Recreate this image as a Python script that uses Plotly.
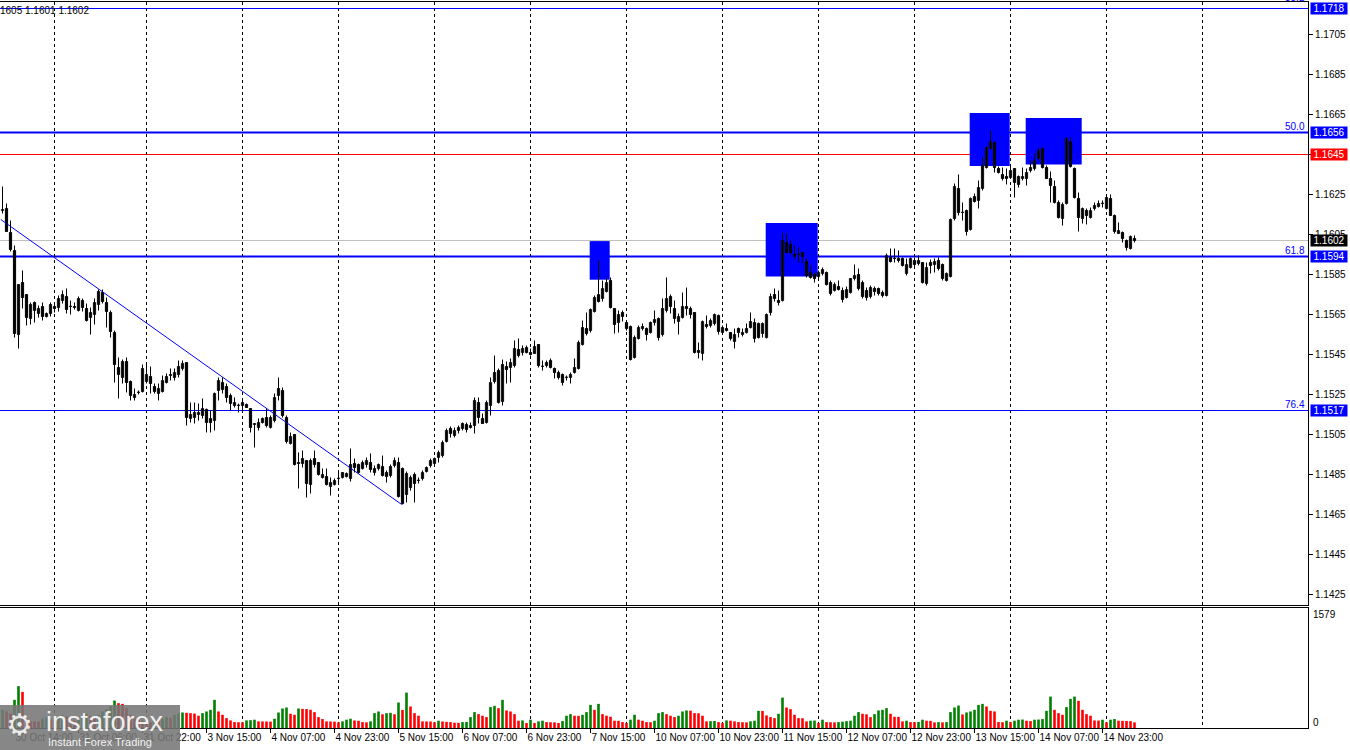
import plotly.graph_objects as go

# ---------------- data (EURUSD H1) ----------------
opens = [
    1.16170,1.16180,1.16060,1.15970,1.15550,1.15810,1.15750,1.15630,1.15710,1.15655,
    1.15690,1.15640,1.15655,1.15690,1.15685,1.15720,1.15740,1.15690,1.15690,1.15670,
    1.15720,1.15680,1.15635,1.15650,1.15700,1.15760,1.15710,1.15660,1.15560,1.15385,
    1.15335,1.15415,1.15315,1.15235,1.15260,1.15265,1.15315,1.15340,1.15290,1.15255,
    1.15265,1.15310,1.15345,1.15335,1.15350,1.15380,1.15410,1.15130,1.15135,1.15150,
    1.15145,1.15175,1.15130,1.15120,1.15270,1.15310,1.15290,1.15245,1.15195,1.15195,
    1.15195,1.15200,1.15180,1.15100,1.15085,1.15110,1.15135,1.15085,1.15120,1.15245,
    1.15270,1.15135,1.15005,1.15050,1.14910,1.14905,1.14920,1.14800,1.14930,1.14910,
    1.14835,1.14840,1.14790,1.14800,1.14830,1.14835,1.14840,1.14830,1.14905,1.14900,
    1.14880,1.14900,1.14910,1.14860,1.14880,1.14890,1.14860,1.14845,1.14895,1.14910,
    1.14880,1.14750,1.14785,1.14850,1.14820,1.14830,1.14865,1.14895,1.14905,1.14935,
    1.14945,1.15015,1.15080,1.15045,1.15070,1.15080,1.15100,1.15085,1.15095,1.15210,
    1.15130,1.15110,1.15195,1.15315,1.15370,1.15215,1.15390,1.15385,1.15395,1.15475,
    1.15460,1.15485,1.15460,1.15455,1.15500,1.15390,1.15395,1.15420,1.15380,1.15360,
    1.15350,1.15335,1.15335,1.15360,1.15380,1.15500,1.15580,1.15570,1.15665,1.15750,
    1.15730,1.15765,1.15820,1.15680,1.15610,1.15660,1.15610,1.15590,1.15435,1.15530,
    1.15580,1.15580,1.15560,1.15610,1.15630,1.15550,1.15670,1.15740,1.15680,1.15615,
    1.15635,1.15690,1.15680,1.15660,1.15470,1.15455,1.15600,1.15595,1.15605,1.15645,
    1.15560,1.15580,1.15560,1.15515,1.15580,1.15550,1.15560,1.15585,1.15610,1.15605,
    1.15555,1.15535,1.15660,1.15750,1.15720,1.15720,1.16010,1.16000,1.15950,1.15950,
    1.15960,1.15915,1.15860,1.15850,1.15840,1.15855,1.15860,1.15810,1.15770,1.15790,
    1.15770,1.15735,1.15760,1.15830,1.15850,1.15810,1.15770,1.15740,1.15780,1.15780,
    1.15760,1.15745,1.15935,1.15930,1.15930,1.15930,1.15855,1.15885,1.15920,1.15905,
    1.15910,1.15805,1.15910,1.15900,1.15920,1.15900,1.15820,1.15840,1.16130,1.16280,
    1.16160,1.16170,1.16075,1.16240,1.16220,1.16280,1.16385,1.16480,1.16510,1.16380,
    1.16350,1.16340,1.16335,1.16380,1.16300,1.16330,1.16330,1.16370,1.16380,1.16430,
    1.16480,1.16385,1.16330,1.16290,1.16210,1.16130,1.16205,1.16515,1.16380,1.16230,
    1.16130,1.16170,1.16135,1.16180,1.16190,1.16205,1.16180,1.16230,1.16145,1.16055,
    1.16060,1.16020,1.15980,1.16030,
]
highs = [
    1.16290,1.16205,1.16120,1.15995,1.15800,1.15870,1.15750,1.15710,1.15715,1.15695,
    1.15710,1.15660,1.15710,1.15710,1.15745,1.15770,1.15780,1.15720,1.15710,1.15740,
    1.15730,1.15705,1.15685,1.15730,1.15775,1.15775,1.15735,1.15670,1.15570,1.15435,
    1.15425,1.15435,1.15320,1.15280,1.15270,1.15400,1.15400,1.15390,1.15305,1.15305,
    1.15345,1.15355,1.15380,1.15380,1.15420,1.15420,1.15410,1.15210,1.15210,1.15205,
    1.15230,1.15180,1.15170,1.15260,1.15335,1.15335,1.15305,1.15255,1.15235,1.15205,
    1.15220,1.15205,1.15180,1.15105,1.15130,1.15135,1.15180,1.15145,1.15255,1.15335,
    1.15285,1.15145,1.15060,1.15050,1.14960,1.14970,1.14920,1.14930,1.14970,1.14910,
    1.14880,1.14880,1.14835,1.14830,1.14870,1.14860,1.14860,1.14980,1.14930,1.14905,
    1.14920,1.14935,1.14955,1.14895,1.14905,1.14945,1.14870,1.14900,1.14935,1.14935,
    1.14885,1.14865,1.14845,1.14860,1.14835,1.14870,1.14890,1.14930,1.14935,1.14970,
    1.15020,1.15080,1.15090,1.15085,1.15095,1.15110,1.15110,1.15110,1.15235,1.15235,
    1.15155,1.15220,1.15335,1.15445,1.15380,1.15425,1.15415,1.15430,1.15520,1.15530,
    1.15495,1.15495,1.15480,1.15520,1.15500,1.15420,1.15420,1.15430,1.15385,1.15370,
    1.15355,1.15345,1.15360,1.15430,1.15520,1.15620,1.15660,1.15680,1.15745,1.15920,
    1.15820,1.15835,1.15835,1.15680,1.15670,1.15670,1.15615,1.15595,1.15545,1.15595,
    1.15605,1.15585,1.15615,1.15670,1.15635,1.15730,1.15835,1.15750,1.15720,1.15655,
    1.15760,1.15785,1.15690,1.15660,1.15510,1.15620,1.15645,1.15630,1.15655,1.15650,
    1.15595,1.15605,1.15560,1.15580,1.15585,1.15580,1.15605,1.15660,1.15630,1.15610,
    1.15610,1.15655,1.15755,1.15780,1.15770,1.16060,1.16055,1.16020,1.15995,1.15985,
    1.15960,1.15930,1.15895,1.15860,1.15870,1.15885,1.15865,1.15820,1.15810,1.15820,
    1.15785,1.15790,1.15830,1.15900,1.15880,1.15820,1.15785,1.15795,1.15790,1.15785,
    1.15770,1.15955,1.15980,1.15980,1.15970,1.15935,1.15930,1.15935,1.15935,1.15945,
    1.15910,1.15910,1.15925,1.15930,1.15935,1.15905,1.15860,1.16130,1.16305,1.16350,
    1.16210,1.16175,1.16235,1.16255,1.16320,1.16435,1.16490,1.16570,1.16515,1.16390,
    1.16385,1.16380,1.16395,1.16380,1.16345,1.16385,1.16380,1.16420,1.16455,1.16485,
    1.16485,1.16395,1.16365,1.16320,1.16220,1.16210,1.16535,1.16535,1.16385,1.16260,
    1.16185,1.16180,1.16185,1.16210,1.16220,1.16220,1.16245,1.16250,1.16150,1.16110,
    1.16065,1.16025,1.16045,1.16045,
]
lows = [
    1.16155,1.16065,1.15965,1.15535,1.15480,1.15680,1.15595,1.15600,1.15610,1.15635,
    1.15620,1.15635,1.15640,1.15660,1.15665,1.15705,1.15655,1.15650,1.15675,1.15665,
    1.15665,1.15615,1.15550,1.15600,1.15670,1.15705,1.15585,1.15535,1.15310,1.15230,
    1.15305,1.15260,1.15220,1.15220,1.15250,1.15260,1.15305,1.15255,1.15255,1.15220,
    1.15260,1.15305,1.15320,1.15320,1.15335,1.15370,1.15095,1.15110,1.15105,1.15120,
    1.15130,1.15060,1.15060,1.15070,1.15220,1.15255,1.15210,1.15170,1.15185,1.15160,
    1.15170,1.15185,1.15060,1.14985,1.15070,1.15105,1.15085,1.15080,1.15110,1.15220,
    1.15135,1.15005,1.15000,1.14895,1.14780,1.14885,1.14735,1.14755,1.14885,1.14845,
    1.14830,1.14795,1.14745,1.14795,1.14805,1.14830,1.14835,1.14815,1.14860,1.14855,
    1.14875,1.14885,1.14860,1.14845,1.14870,1.14840,1.14810,1.14835,1.14885,1.14735,
    1.14700,1.14710,1.14770,1.14710,1.14805,1.14820,1.14860,1.14885,1.14895,1.14910,
    1.14935,1.15010,1.15035,1.15035,1.15055,1.15070,1.15060,1.15080,1.15055,1.15105,
    1.15105,1.15105,1.15145,1.15305,1.15205,1.15195,1.15305,1.15310,1.15385,1.15435,
    1.15445,1.15455,1.15445,1.15455,1.15385,1.15370,1.15385,1.15380,1.15330,1.15325,
    1.15295,1.15320,1.15305,1.15355,1.15375,1.15495,1.15545,1.15560,1.15660,1.15710,
    1.15715,1.15760,1.15680,1.15555,1.15560,1.15615,1.15570,1.15420,1.15430,1.15525,
    1.15570,1.15520,1.15555,1.15595,1.15520,1.15540,1.15660,1.15655,1.15605,1.15550,
    1.15630,1.15645,1.15630,1.15455,1.15430,1.15420,1.15580,1.15585,1.15595,1.15550,
    1.15550,1.15565,1.15520,1.15480,1.15535,1.15540,1.15555,1.15580,1.15510,1.15530,
    1.15535,1.15530,1.15645,1.15715,1.15695,1.15715,1.15955,1.15950,1.15925,1.15910,
    1.15905,1.15835,1.15830,1.15810,1.15830,1.15845,1.15795,1.15745,1.15765,1.15770,
    1.15710,1.15730,1.15755,1.15820,1.15770,1.15730,1.15720,1.15730,1.15745,1.15745,
    1.15735,1.15740,1.15910,1.15910,1.15910,1.15890,1.15845,1.15880,1.15885,1.15895,
    1.15805,1.15795,1.15855,1.15860,1.15870,1.15820,1.15815,1.15835,1.16120,1.16145,
    1.16120,1.16045,1.16070,1.16210,1.16180,1.16270,1.16380,1.16475,1.16360,1.16355,
    1.16320,1.16300,1.16330,1.16235,1.16285,1.16320,1.16295,1.16360,1.16370,1.16420,
    1.16380,1.16330,1.16210,1.16205,1.16130,1.16095,1.16200,1.16385,1.16230,1.16065,
    1.16105,1.16100,1.16130,1.16170,1.16185,1.16185,1.16175,1.16145,1.16055,1.16055,
    1.16010,1.15970,1.15975,1.16010,
]
closes = [
    1.16175,1.16065,1.15975,1.15555,1.15800,1.15735,1.15635,1.15700,1.15670,1.15680,
    1.15640,1.15655,1.15700,1.15680,1.15730,1.15750,1.15675,1.15690,1.15685,1.15730,
    1.15685,1.15620,1.15660,1.15710,1.15765,1.15715,1.15665,1.15565,1.15400,1.15350,
    1.15415,1.15310,1.15245,1.15250,1.15260,1.15380,1.15350,1.15305,1.15265,1.15280,
    1.15320,1.15340,1.15350,1.15360,1.15390,1.15405,1.15135,1.15150,1.15160,1.15160,
    1.15180,1.15110,1.15110,1.15255,1.15320,1.15275,1.15235,1.15205,1.15210,1.15195,
    1.15210,1.15185,1.15085,1.15105,1.15110,1.15130,1.15095,1.15135,1.15235,1.15280,
    1.15145,1.15015,1.15040,1.14900,1.14905,1.14930,1.14805,1.14920,1.14900,1.14850,
    1.14850,1.14800,1.14810,1.14820,1.14830,1.14860,1.14855,1.14900,1.14885,1.14860,
    1.14910,1.14920,1.14875,1.14880,1.14900,1.14845,1.14840,1.14890,1.14920,1.14740,
    1.14705,1.14855,1.14835,1.14805,1.14820,1.14860,1.14885,1.14920,1.14930,1.14960,
    1.15010,1.15070,1.15055,1.15070,1.15085,1.15105,1.15075,1.15095,1.15220,1.15135,
    1.15105,1.15210,1.15310,1.15360,1.15210,1.15400,1.15375,1.15410,1.15480,1.15445,
    1.15480,1.15460,1.15450,1.15490,1.15395,1.15390,1.15410,1.15385,1.15360,1.15335,
    1.15310,1.15335,1.15350,1.15385,1.15510,1.15585,1.15555,1.15675,1.15735,1.15715,
    1.15780,1.15810,1.15685,1.15600,1.15650,1.15640,1.15580,1.15425,1.15535,1.15585,
    1.15590,1.15550,1.15610,1.15625,1.15535,1.15680,1.15730,1.15690,1.15630,1.15640,
    1.15690,1.15680,1.15650,1.15460,1.15460,1.15615,1.15590,1.15620,1.15650,1.15565,
    1.15585,1.15570,1.15530,1.15550,1.15560,1.15560,1.15580,1.15615,1.15530,1.15535,
    1.15605,1.15650,1.15740,1.15730,1.15710,1.16020,1.15960,1.15960,1.15940,1.15950,
    1.15940,1.15845,1.15835,1.15830,1.15860,1.15875,1.15800,1.15755,1.15800,1.15775,
    1.15725,1.15775,1.15830,1.15845,1.15780,1.15740,1.15735,1.15785,1.15765,1.15755,
    1.15745,1.15945,1.15915,1.15930,1.15920,1.15895,1.15900,1.15930,1.15900,1.15920,
    1.15810,1.15885,1.15895,1.15915,1.15880,1.15830,1.15855,1.16125,1.16290,1.16160,
    1.16160,1.16065,1.16230,1.16215,1.16285,1.16395,1.16485,1.16515,1.16385,1.16360,
    1.16330,1.16330,1.16370,1.16310,1.16340,1.16340,1.16360,1.16385,1.16420,1.16470,
    1.16385,1.16330,1.16295,1.16210,1.16135,1.16200,1.16530,1.16390,1.16235,1.16135,
    1.16180,1.16145,1.16170,1.16195,1.16205,1.16205,1.16235,1.16145,1.16065,1.16070,
    1.16030,1.15985,1.16040,1.16020,
]
volumes = [
    252,230,200,390,580,500,110,95,92,90,
    130,150,120,100,140,180,160,120,100,110,
    150,200,170,140,180,230,260,300,380,344,
    334,275,183,150,120,100,90,80,110,100,
    130,150,140,180,200,215,210,206,200,170,
    206,229,252,390,229,183,137,105,82,80,
    78,105,108,115,92,91,90,88,128,215,
    270,284,197,183,270,265,262,252,220,151,
    124,92,90,88,78,92,115,128,105,100,
    82,78,92,206,229,190,206,210,190,353,
    250,490,298,206,170,92,91,90,78,101,
    90,85,82,73,72,82,84,151,220,192,
    170,151,289,307,275,390,243,229,192,101,
    105,69,115,69,92,101,82,80,78,69,
    96,170,192,170,168,183,220,320,252,334,
    192,170,156,101,100,82,69,115,183,115,
    101,82,80,101,206,220,192,170,151,170,
    229,243,240,206,204,170,92,95,97,82,
    69,105,101,92,82,80,78,92,101,238,
    236,174,151,137,197,421,284,261,183,137,
    135,92,101,103,69,115,82,80,78,82,
    88,95,101,170,220,197,190,151,192,243,
    252,275,197,156,154,92,101,82,80,84,
    115,101,99,78,82,78,82,220,284,311,
    188,215,229,252,320,334,298,238,229,82,
    80,101,82,101,115,117,101,96,115,117,
    124,238,435,252,206,183,289,403,435,376,
    252,192,170,105,103,115,78,115,124,101,
    99,97,95,78,
]
assert len(opens) == len(highs) == len(lows) == len(closes) == len(volumes)

# time-axis labels (bar index -> label)
tick_bars = [3, 19, 35, 51, 67, 83, 99, 115, 131, 147, 163, 179, 195, 211, 227, 243, 259, 275]
tick_labels = ["30 Oct 14:00", "31 Oct 06:00", "31 Oct 22:00", "3 Nov 15:00", "4 Nov 07:00",
               "4 Nov 23:00", "5 Nov 15:00", "6 Nov 07:00", "6 Nov 23:00", "7 Nov 15:00",
               "10 Nov 07:00", "10 Nov 23:00", "11 Nov 15:00", "12 Nov 07:00", "12 Nov 23:00",
               "13 Nov 15:00", "14 Nov 07:00", "14 Nov 23:00"]
grid_bars = [12.9, 36, 60, 84, 108, 132, 156, 180, 204, 228, 252, 276, 300]
price_ticks = [1.1425, 1.1445, 1.1465, 1.1485, 1.1505, 1.1525, 1.1545, 1.1565, 1.1585,
               1.1605, 1.1625, 1.1645, 1.1665, 1.1685, 1.1705]

# horizontal levels
fib_levels = [1.1718, 1.1656, 1.1594, 1.1517]
fib_names = ["38.2", "50.0", "61.8", "76.4"]
resistance_level = 1.1645
bid_price = 1.1602
volume_max_label = 1579

# trend line and signal zones
trend_x = [-0.42, 99.8]
trend_y = [1.16125, 1.14700]
zone_x0 = [146.8, 190.8, 241.8, 255.8]
zone_x1 = [151.8, 203.8, 251.8, 269.8]
zone_top = [1.16017, 1.16107, 1.16657, 1.16632]
zone_bot = [1.15824, 1.15840, 1.16392, 1.16400]

# ---------------- geometry ----------------
W, H = 1350, 750
ML, MR, MT, MB = 0, 42, 2, 22
PW = W - ML - MR
PH = H - MT - MB
PX_PER_BAR = 4
X0 = -2.5 / PX_PER_BAR
X1 = X0 + PW / PX_PER_BAR
PX_PER_PRICE = 20000
Y_TOP = 1.172125
Y_BOT = Y_TOP - 603 / PX_PER_PRICE


def paper_y(py):
    return (H - MB - py) / PH


price_dom = [paper_y(605), 1]
vol_dom = [0, paper_y(608)]
VOL_MAX = 1662

BLUE = "#0000FF"
FONT = "Liberation Sans"

fig = go.Figure()

fig.add_trace(go.Scatter(x=trend_x, y=trend_y, mode="lines",
                         line=dict(color=BLUE, width=1), hoverinfo="skip",
                         xaxis="x", yaxis="y"))

wx, wy = [], []
for i, (h, l) in enumerate(zip(highs, lows)):
    wx += [i, i, None]
    wy += [l, h, None]
fig.add_trace(go.Scatter(x=wx, y=wy, mode="lines", line=dict(color="black", width=1),
                         hoverinfo="skip", xaxis="x", yaxis="y"))

idx = list(range(len(opens)))
base = [min(o, c) for o, c in zip(opens, closes)]
height = [max(abs(c - o), 0.00002) for o, c in zip(opens, closes)]
fill = ["white" if c >= o else "black" for o, c in zip(opens, closes)]
fig.add_trace(go.Bar(x=idx, y=height, base=base, width=0.55,
                     marker=dict(color=fill, line=dict(color="black", width=1)),
                     hoverinfo="skip", xaxis="x", yaxis="y"))

vcol = ["#008000"] + ["#008000" if volumes[k] > volumes[k - 1] else "#FF0000"
                      for k in range(1, len(volumes))]
fig.add_trace(go.Bar(x=idx, y=volumes, width=0.65, marker=dict(color=vcol, line=dict(width=0)),
                     hoverinfo="skip", xaxis="x2", yaxis="y2"))

shapes = []
for a, b, t, bt in zip(zone_x0, zone_x1, zone_top, zone_bot):
    shapes.append(dict(type="rect", xref="x", yref="y", x0=a, x1=b, y0=bt, y1=t,
                       fillcolor=BLUE, line=dict(width=0), layer="between"))
for lv in fib_levels:
    w = 2 if lv in (1.1656, 1.1594) else 1
    shapes.append(dict(type="line", xref="paper", yref="y", x0=0, x1=1, y0=lv, y1=lv,
                       line=dict(color=BLUE, width=w), layer="between"))
shapes.append(dict(type="line", xref="paper", yref="y", x0=0, x1=1, y0=resistance_level,
                   y1=resistance_level, line=dict(color="#FF0000", width=1), layer="between"))
shapes.append(dict(type="line", xref="paper", yref="y", x0=0, x1=1, y0=bid_price,
                   y1=bid_price, line=dict(color="#C0C0C0", width=1), layer="between"))
# watermark panel (covers the axis labels beneath it)
shapes.append(dict(type="rect", xref="paper", yref="paper", x0=0, x1=180 / PW,
                   y0=paper_y(751), y1=paper_y(705), fillcolor="rgba(118,118,118,0.88)",
                   line=dict(width=0), layer="above"))

ann = []
boxes = [(1.1718, BLUE), (1.1656, BLUE), (resistance_level, "#FF0000"),
         (bid_price, "black"), (1.1594, BLUE), (1.1517, BLUE)]
for p, col in boxes:
    ann.append(dict(x=1, xref="paper", y=p, yref="y", xanchor="left", yanchor="middle",
                    xshift=2, text=f"{p:.4f}", showarrow=False, bgcolor=col, width=36,
                    height=11, borderpad=0, font=dict(family=FONT, size=10, color="white")))
for p, n in zip(fib_levels, fib_names):
    ann.append(dict(x=1, xref="paper", y=p, yref="y", xanchor="right", yanchor="bottom",
                    xshift=-1, yshift=(4 if n == "38.2" else -1), text=n, showarrow=False,
                    font=dict(family=FONT, size=10, color=BLUE)))
ann.append(dict(x=1, xref="paper", y=paper_y(614), yref="paper", xanchor="left",
                yanchor="middle", xshift=3, text=str(volume_max_label), showarrow=False,
                font=dict(family=FONT, size=10, color="black")))
ann.append(dict(x=1, xref="paper", y=paper_y(722), yref="paper", xanchor="left",
                yanchor="middle", xshift=3, text="0", showarrow=False,
                font=dict(family=FONT, size=10, color="black")))
ann.append(dict(x=0, xref="paper", y=paper_y(10), yref="paper", xanchor="left",
                yanchor="middle", xshift=-2, text="1605 1.1601 1.1602", showarrow=False,
                font=dict(family=FONT, size=10, color="black")))
# watermark texts
ann.append(dict(x=44 / PW, xref="paper", y=paper_y(722), yref="paper",
                xanchor="left", yanchor="middle", text="instaforex", showarrow=False,
                font=dict(family=FONT, size=27, color="rgba(255,255,255,0.9)")))
ann.append(dict(x=46 / PW, xref="paper", y=paper_y(742), yref="paper",
                xanchor="left", yanchor="middle", text="Instant Forex Trading", showarrow=False,
                font=dict(family=FONT, size=11, color="rgba(255,255,255,0.9)")))
ann.append(dict(x=4 / PW, xref="paper", y=paper_y(724), yref="paper",
                xanchor="left", yanchor="middle", text="⚙", showarrow=False,
                font=dict(family="DejaVu Sans", size=30, color="rgba(255,255,255,0.85)")))

axis_common = dict(showline=True, mirror=True, linecolor="black", linewidth=1,
                   zeroline=False, automargin=False)
fig.update_layout(
    width=W, height=H, margin=dict(l=ML, r=MR, t=MT, b=MB, autoexpand=False),
    paper_bgcolor="white", plot_bgcolor="white", showlegend=False, barmode="overlay",
    xaxis=dict(domain=[0, 1], range=[X0, X1], anchor="y", tickmode="array",
               tickvals=grid_bars, showticklabels=False, ticks="", showgrid=True,
               griddash="3px,3px", gridcolor="black", gridwidth=1, **axis_common),
    yaxis=dict(domain=price_dom, range=[Y_BOT, Y_TOP], side="right", anchor="x",
               tickmode="array", tickvals=price_ticks, tickformat=".4f", ticks="outside",
               ticklen=4, tickcolor="black", showgrid=False,
               tickfont=dict(family=FONT, size=10, color="black"), **axis_common),
    xaxis2=dict(domain=[0, 1], range=[X0, X1], anchor="y2", tickmode="array",
                tickvals=tick_bars, ticktext=tick_labels, ticklabelposition="outside right",
                tickangle=0, ticks="outside", ticklen=4, tickcolor="black", showgrid=False,
                tickfont=dict(family=FONT, size=10, color="black"),
                minor=dict(tickmode="array", tickvals=grid_bars, ticks="", showgrid=True,
                           griddash="3px,3px", gridcolor="black", gridwidth=1),
                **axis_common),
    yaxis2=dict(domain=vol_dom, range=[0, VOL_MAX], side="right", anchor="x2",
                showticklabels=False, ticks="", showgrid=False, **axis_common),
    shapes=shapes, annotations=ann,
)

fig.write_html("out.html", config={"displayModeBar": False},
               post_script="document.body.style.margin='0';document.body.style.overflow='hidden';")
